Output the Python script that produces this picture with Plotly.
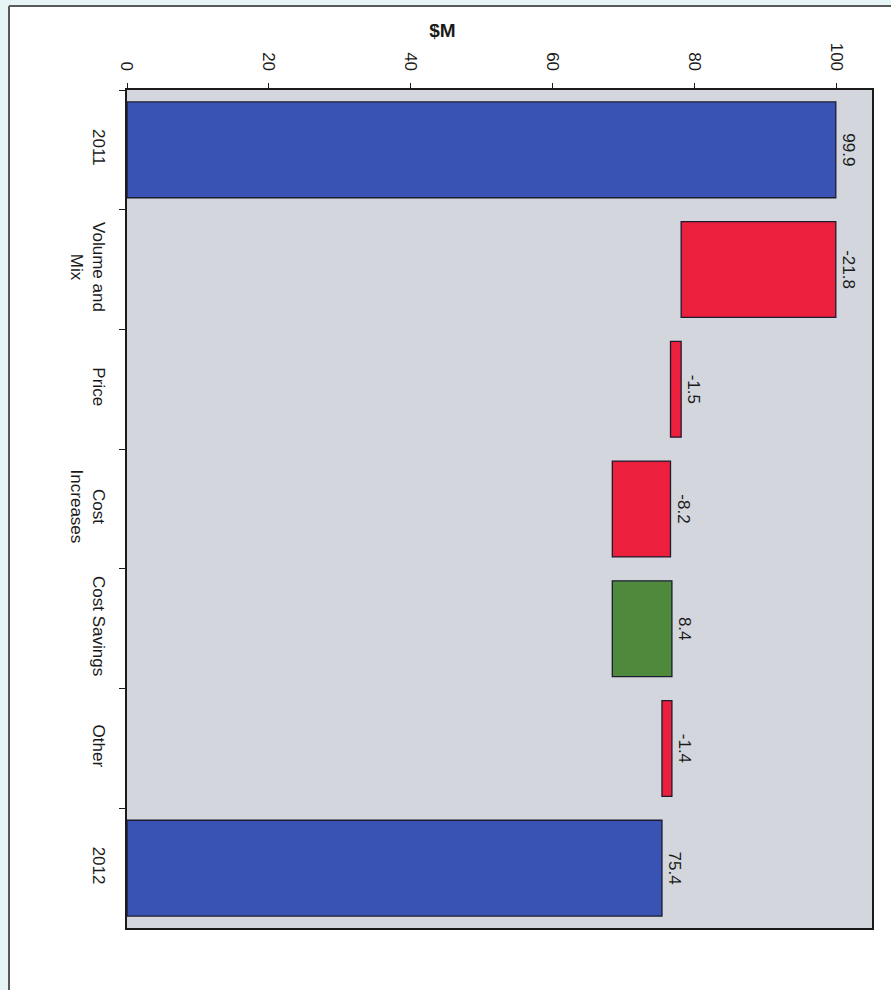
import plotly.graph_objects as go

categories = ["2011", "Volume and<br>Mix", "Price", "Cost<br>Increases", "Cost Savings", "Other", "2012"]
values = [99.9, -21.8, -1.5, -8.2, 8.4, -1.4, 75.4]
kinds = ["total", "delta", "delta", "delta", "delta", "delta", "total"]
labels = ["99.9", "-21.8", "-1.5", "-8.2", "8.4", "-1.4", "75.4"]
x_ticks = [0, 20, 40, 60, 80, 100]

BLUE = "#3853b3"
RED = "#ec1f3c"
GREEN = "#4f8a3c"

bases, lengths, colors = [], [], []
running = 0.0
for v, k in zip(values, kinds):
    if k == "total":
        bases.append(0.0)
        lengths.append(v)
        colors.append(BLUE)
        running = v
    else:
        new = running + v
        bases.append(min(running, new))
        lengths.append(abs(v))
        colors.append(GREEN if v > 0 else RED)
        running = new

FONT = "Liberation Sans, Arial, sans-serif"

fig = go.Figure(go.Bar(
    y=categories, x=lengths, base=bases, orientation="h",
    marker=dict(color=colors, line=dict(color="#1c1c30", width=1.3)),
    width=0.8,
    text=labels, textposition="outside", textangle=90,
    textfont=dict(family=FONT, size=17, color="#1a1a1a"),
    cliponaxis=False,
))

W, H = 891, 990
L, R, T, B = 127, 19, 90, 62
pw, ph = W - L - R, H - T - B

def px_x(p):
    return (p - L) / pw

def px_y(p):
    return (H - B - p) / ph

shapes = [
    dict(type="rect", xref="paper", yref="paper", x0=px_x(-20), x1=px_x(8), y0=px_y(1100), y1=px_y(-100),
         fillcolor="#e7f4f6", line=dict(width=0), layer="below"),
    dict(type="rect", xref="paper", yref="paper", x0=px_x(-20), x1=px_x(1000), y0=px_y(5), y1=px_y(-100),
         fillcolor="#e7f4f6", line=dict(width=0), layer="below"),
    dict(type="line", xref="paper", yref="paper", x0=px_x(9), x1=px_x(9), y0=px_y(6), y1=px_y(1100),
         line=dict(color="#5a5a5a", width=2)),
    dict(type="line", xref="paper", yref="paper", x0=px_x(9), x1=px_x(1000), y0=px_y(6), y1=px_y(6),
         line=dict(color="#5a5a5a", width=2)),
]

fig.update_layout(
    width=W, height=H,
    margin=dict(l=L, r=R, t=T, b=B),
    paper_bgcolor="white",
    plot_bgcolor="#d3d6dd",
    showlegend=False,
    font=dict(family=FONT, size=17, color="#1a1a1a"),
    title=dict(text="<b>$M</b>", x=px_x(497), xanchor="center", y=1 - 30 / H, yanchor="middle",
               font=dict(family="Liberation Sans Narrow, Liberation Sans, Arial", size=19, color="#1a1a1a")),
    shapes=shapes,
    bargap=0.2,
)
fig.update_xaxes(
    side="top", range=[0, 105], tickvals=x_ticks, tickangle=90,
    showgrid=False, zeroline=False,
    showline=True, linecolor="#1a1a1a", linewidth=2, mirror=True,
    ticks="outside", ticklen=5, tickcolor="#1a1a1a", ticklabelstandoff=6,
    tickfont=dict(family=FONT, size=17, color="#1a1a1a"),
)
fig.update_yaxes(
    autorange="reversed", tickangle=90, tickson="boundaries",
    showgrid=False, zeroline=False,
    showline=True, linecolor="#1a1a1a", linewidth=1.5, mirror=True,
    ticks="outside", ticklen=6, tickcolor="#1a1a1a", ticklabelstandoff=12,
    tickfont=dict(family=FONT, size=17, color="#1a1a1a"),
)

fig.write_html("out.html")
